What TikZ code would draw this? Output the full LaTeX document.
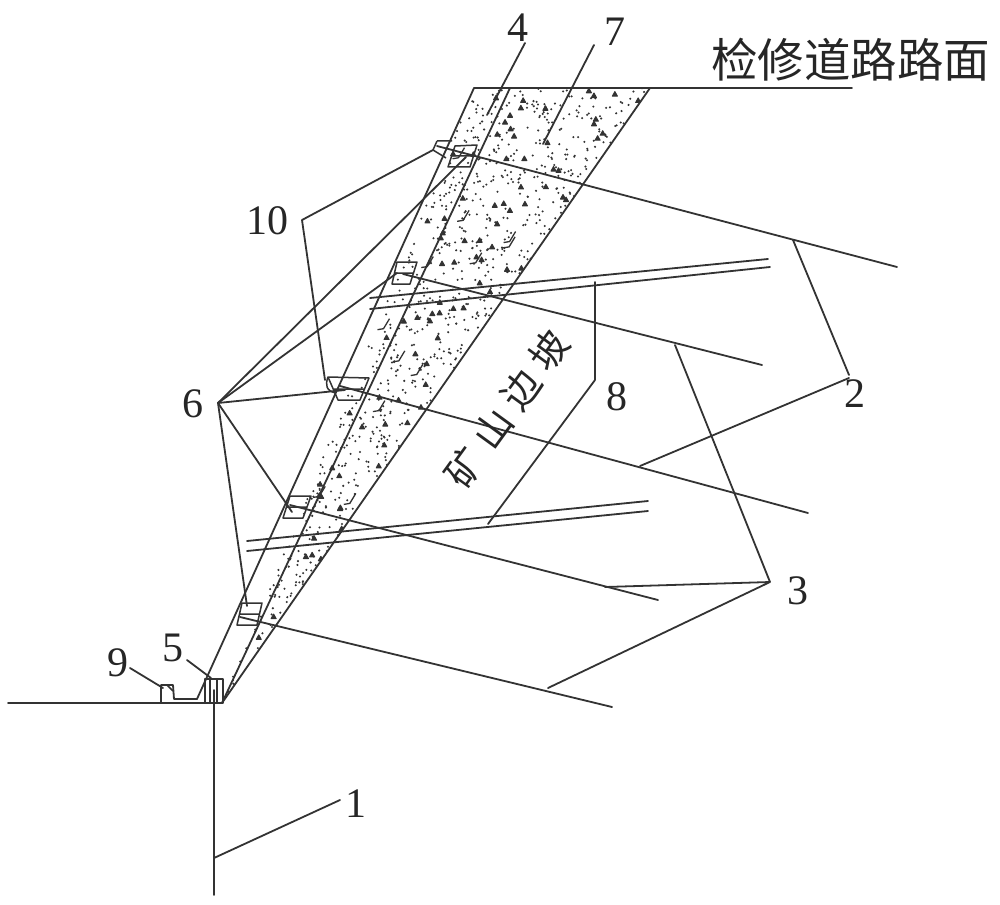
\documentclass[tikz,border=0pt]{standalone}
\usepackage{fontspec}
\setmainfont{Liberation Serif}
\newfontfamily\cjk{Noto Sans CJK SC}
\tikzset{
  ln/.style={draw=black!80,line width=1.8pt,line cap=round,line join=round},
  thin ln/.style={draw=black!80,line width=1.5pt,line join=round},
  num/.style={inner sep=0pt,font=\fontsize{42}{42}\selectfont,text=black!85},
  cn/.style={inner sep=0pt,text=black!85},
  dot/.style={fill=black!80,draw=none}
}
\begin{document}
\begin{tikzpicture}[x=1pt,y=-1pt]
\useasboundingbox (0,0) rectangle (1000,904);
\fill[white] (0,0) rectangle (1000,904);
% wedge corners
\coordinate (apex) at (222,703);
\coordinate (tl) at (474,88);
\coordinate (tm) at (510,88);
\coordinate (tr) at (650,88);
\coordinate (bl) at (197,699);
% stipple
\begin{scope}
\clip (bl) -- (tl) -- (tr) -- (apex) -- cycle;
\pgfmathsetseed{4271}
\foreach \i in {1,...,760}{
  \pgfmathsetmacro{\t}{sqrt(rnd)}
  \pgfmathsetmacro{\u}{rnd}
  \pgfmathsetmacro{\yy}{703-615*\t}
  \pgfmathsetmacro{\xx}{222+\t*252+\u*\t*176}
  \fill[dot] (\xx,\yy) circle (1.15);
}
\foreach \i in {1,...,85}{
  \pgfmathsetmacro{\t}{sqrt(rnd)}
  \pgfmathsetmacro{\u}{rnd}
  \pgfmathsetmacro{\yy}{703-615*\t}
  \pgfmathsetmacro{\xx}{222+\t*252+\u*\t*176}
  \fill[dot,draw=black!80,line width=1pt,line join=round] (\xx-2.5,\yy+2) -- (\xx,\yy-2.5) -- (\xx+2.5,\yy+2) -- cycle;
}
\foreach \i in {1,...,12}{
  \pgfmathsetmacro{\t}{0.25+0.75*rnd}
  \pgfmathsetmacro{\u}{rnd}
  \pgfmathsetmacro{\yy}{703-615*\t}
  \pgfmathsetmacro{\xx}{222+\t*252+\u*\t*176}
  \draw[black!80,line width=1.3pt] (\xx+5,\yy-8) -- (\xx-1,\yy+2) -- (\xx-7,\yy+3);
}
\end{scope}
% wedge edges
\path[ln] (bl) -- (tl);
\path[ln] (apex) -- (tm);
\path[ln] (apex) -- (tr);
\coordinate (roadend) at (852,88);
\path[ln] (tl) -- (roadend);
% ground and vertical
\coordinate (g0) at (8,703);
\path[ln] (g0) -- (apex);
\coordinate (v0) at (214,690);
\coordinate (v1) at (214,895);
\path[ln] (v0) -- (v1);
% anchors (long lines)
\foreach \n/\ax/\ay/\bx/\by in {a/437/146/897/267, b/403/274/762/365, c/340/386/808/513, d/290/505/658/600, e/240/617/612/707}{
  \coordinate (\n0) at (\ax,\ay);
  \coordinate (\n1) at (\bx,\by);
  \path[ln] (\n0) -- (\n1);
}
% double bars 8
\foreach \n/\ax/\ay/\bx/\by in {p/370/298/768/259, q/370/309/770/267, r/247/541/648/501, s/247/551/648/511}{
  \coordinate (\n0) at (\ax,\ay);
  \coordinate (\n1) at (\bx,\by);
  \path[ln] (\n0) -- (\n1);
}
% anchor plates
\path[thin ln] (455,146) -- (477,145) -- (470,167) -- (448,167) -- cycle (451,156) -- (473,156);
\path[thin ln] (397,262) -- (417,262) -- (410,284) -- (392,284) -- cycle (394,273) -- (413,273);
\path[thin ln] (328,377) -- (369,378) -- (360,400) -- (338,400) -- cycle (333,389) -- (364,389);
\path[thin ln] (290,496) -- (311,496) -- (303,518) -- (283,518) -- cycle (287,507) -- (307,507);
\path[thin ln] (242,603) -- (262,603) -- (257,625) -- (237,625) -- cycle (240,614) -- (260,614);
% pads at tips of labels 10
\path[thin ln] (437,141) -- (452,141) (437,141) -- (433,150) -- (446,158);
\path[thin ln] (328,377) .. controls (325,385) and (326,391) .. (336,393);
% toe wall 5
\path[thin ln] (205,679) rectangle (223,703);
\path[thin ln] (210,679) -- (210,703) (217,679) -- (217,703);
% ditch 9
\path[ln] (161,703) -- (161,685) -- (173,685) -- (174,699) -- (197,699);
\path[thin ln] (167,685) -- (173,691);
% title and text
\node[cn,anchor=west,font=\fontsize{46.5}{46.5}\cjk] (title) at (711,60) {检修道路路面};
\node[cn,font=\fontsize{38}{38}\cjk,rotate=54] (slope) at (507,409) {矿\hspace{10pt}山\hspace{10pt}边\hspace{10pt}坡};
% numeric labels
\node[num] (n1) at (356,804) {1};
\node[num] (n2) at (855,394) {2};
\node[num] (n3) at (798,591) {3};
\node[num] (n4) at (518,28) {4};
\node[num] (n5) at (173,648) {5};
\node[num] (n6) at (193,404) {6};
\node[num] (n7) at (615,32) {7};
\node[num] (n8) at (617,397) {8};
\node[num] (n9) at (118,663) {9};
\node[num] (n10) at (267,221) {10};
% leaders
\coordinate (h1) at (340,800);
\coordinate (h1t) at (214,858);
\path[ln] (h1) -- (h1t);
\coordinate (h2) at (849,375);
\coordinate (h2b) at (849,378);
\coordinate (t2a) at (793,240);
\coordinate (t2b) at (640,466);
\path[ln] (h2) -- (t2a) (h2b) -- (t2b);
\coordinate (h3) at (770,582);
\coordinate (t3a) at (675,345);
\coordinate (t3b) at (605,587);
\coordinate (t3c) at (548,688);
\path[ln] (h3) -- (t3a) (h3) -- (t3b) (h3) -- (t3c);
\coordinate (h4) at (525,43);
\coordinate (t4) at (487,115);
\path[ln] (h4) -- (t4);
\coordinate (h5) at (187,660);
\coordinate (t5) at (211,678);
\path[ln] (h5) -- (t5);
\coordinate (h6) at (218,403);
\foreach \n/\x/\y in {a/466/157, b/397/273, c/345/390, d/292/512, e/247/606}{
  \coordinate (t6\n) at (\x,\y);
  \path[ln] (h6) -- (t6\n);
}
\coordinate (h7) at (594,45);
\coordinate (t7) at (543,144);
\path[ln] (h7) -- (t7);
\coordinate (h8) at (595,380);
\coordinate (t8a) at (595,282);
\coordinate (t8b) at (488,524);
\path[ln] (h8) -- (t8a) (h8) -- (t8b);
\coordinate (h9) at (130,668);
\coordinate (t9) at (163,688);
\path[ln] (h9) -- (t9);
\coordinate (h10) at (302,220);
\coordinate (t10a) at (433,150);
\coordinate (t10b) at (325,380);
\path[ln] (h10) -- (t10a) (h10) -- (t10b);
\end{tikzpicture}
\end{document}
